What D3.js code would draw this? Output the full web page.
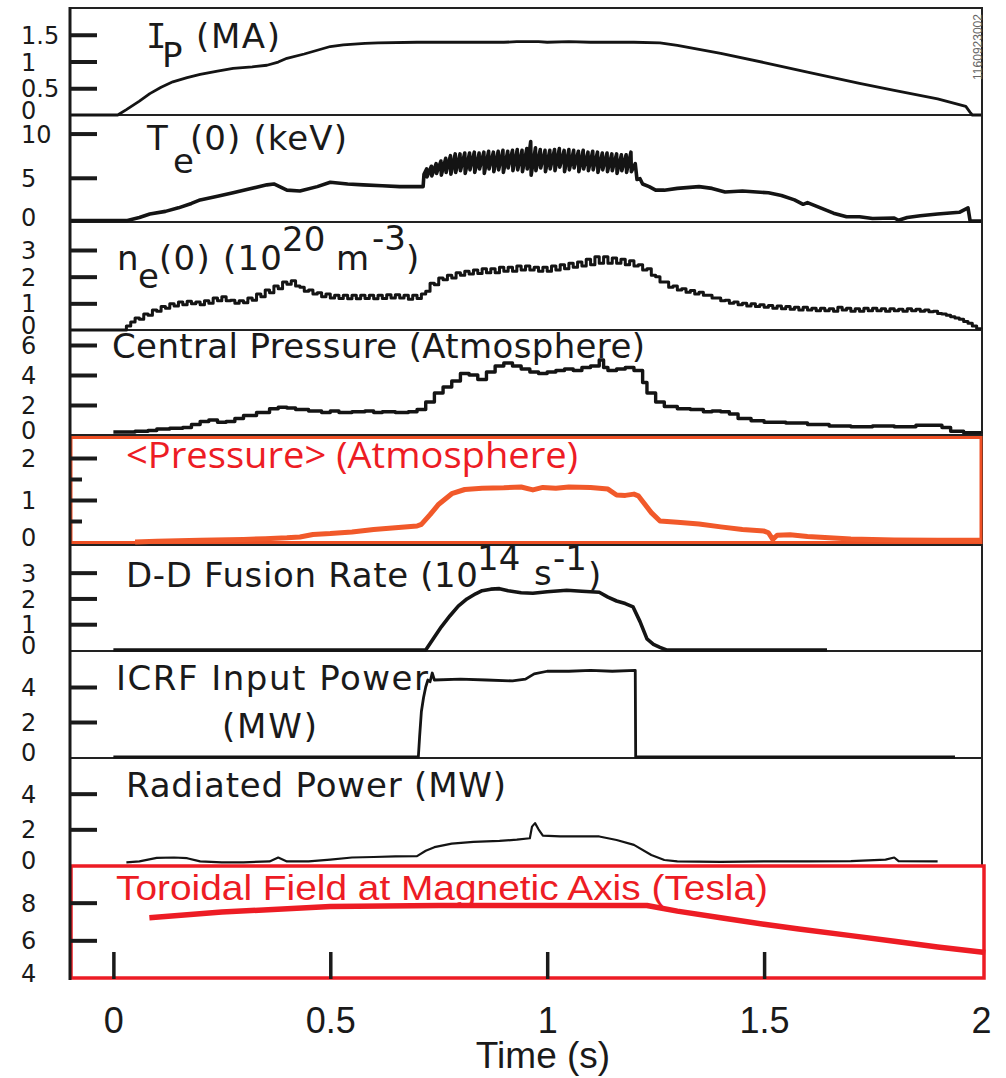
<!DOCTYPE html>
<html>
<head>
<meta charset="utf-8">
<script src="https://cdn.jsdelivr.net/npm/d3@7"></script>
<style>
  body { margin: 0; background: #fff; }
  svg text { font-family: "DejaVu Sans", Verdana, sans-serif; fill: #1a1a1a; }
</style>
</head>
<body>
<svg id="chart" width="1006" height="1078"></svg>
<script>
// ---- data: [time (s), value] ----

var timeTicks = [0, 0.5, 1, 1.5, 2];

// plasma current (MA)
var ipTicks = [0, 0.5, 1, 1.5];
var ipData = [[-0.1,0],[0.01,0],[0.03,0.1],[0.06,0.26],[0.084,0.4],[0.11,0.52],[0.137,0.62],
  [0.17,0.7],[0.2,0.76],[0.24,0.82],[0.276,0.87],[0.32,0.9],[0.354,0.93],[0.38,0.99],[0.4,1.06],
  [0.44,1.14],[0.47,1.21],[0.5,1.28],[0.53,1.31],[0.58,1.34],[0.61,1.35],[0.7,1.36],[0.8,1.36],
  [0.9,1.36],[0.93,1.37],[0.98,1.37],[1.0,1.36],[1.05,1.37],[1.1,1.36],[1.2,1.36],[1.26,1.35],
  [1.3,1.3],[1.4,1.15],[1.5,0.98],[1.6,0.8],[1.72,0.59],[1.8,0.46],[1.9,0.3],[1.965,0.16],
  [1.975,0.05],[1.98,0],[2.0,0]];

// central electron temperature (keV)
var teTicks = [0, 5, 10];
var teRamp = [[-0.1,0.15],[0.03,0.15],[0.06,0.5],[0.084,0.9],[0.12,1.2],[0.15,1.6],[0.18,2.1],
  [0.2,2.5],[0.24,2.9],[0.276,3.3],[0.31,3.7],[0.354,4.2],[0.37,4.3],[0.4,3.6],[0.43,3.5],
  [0.47,4.0],[0.5,4.5],[0.54,4.3],[0.576,4.2],[0.62,4.1],[0.66,4.0],[0.714,4.0],[0.716,5.4]];
// sawtooth teeth: [time, top, bottom after crash]
var teTeeth = [[0.722,6.0,5.1],[0.733,6.3,5.2],[0.744,6.6,5.5],[0.755,6.9,5.3],[0.766,7.2,5.6],
  [0.777,7.5,5.4],[0.788,7.7,5.6],[0.799,7.7,5.8],[0.810,7.8,5.5],[0.821,7.8,5.9],[0.832,7.9,5.6],
  [0.843,7.8,6.0],[0.854,7.9,5.5],[0.865,8.0,6.0],[0.876,7.9,5.7],[0.887,8.0,5.9],[0.898,8.1,5.6],
  [0.909,8.0,6.1],[0.920,8.1,5.8],[0.931,8.2,5.9],[0.942,8.1,5.7],[0.953,8.3,6.0],[0.962,9.1,5.3],
  [0.973,8.4,5.8],[0.984,8.2,6.1],[0.995,8.1,5.7],[1.006,8.1,6.0],[1.017,8.2,5.8],[1.028,8.3,6.2],
  [1.039,8.1,5.7],[1.050,8.2,5.9],[1.061,8.1,6.1],[1.072,8.0,5.7],[1.083,8.1,6.0],[1.094,7.9,5.8],
  [1.105,8.0,5.9],[1.116,7.9,5.6],[1.127,7.8,5.9],[1.138,7.8,5.7],[1.149,7.7,5.8],[1.160,7.7,5.5],
  [1.171,7.6,5.8],[1.182,7.6,5.6],[1.193,7.9,5.7]];
var teDecay = [[1.203,6.6],[1.207,4.8],[1.214,4.9],[1.22,4.3],[1.235,4.0],[1.25,3.6],[1.27,3.6],
  [1.3,3.8],[1.35,4.0],[1.38,3.8],[1.41,3.4],[1.45,3.5],[1.51,3.3],[1.54,3.0],[1.57,2.5],[1.59,2.0],
  [1.6,2.2],[1.63,1.6],[1.66,1.0],[1.69,0.6],[1.72,0.6],[1.75,0.4],[1.8,0.45],[1.81,0.2],[1.83,0.5],
  [1.86,0.7],[1.9,0.9],[1.95,1.1],[1.97,1.6],[1.975,0.1],[2.0,0.1]];

// central electron density (1e20 m^-3)
var neTicks = [0, 1, 2, 3];
var neData = [[-0.1,0],[0.02,0],[0.03,0.15],[0.04,0.3],[0.05,0.45],[0.06,0.4],[0.07,0.6],[0.08,0.55],
  [0.09,0.75],[0.10,0.7],[0.11,0.88],[0.12,0.82],[0.13,0.98],[0.14,0.9],[0.15,1.05],[0.16,0.95],
  [0.17,1.08],[0.18,0.98],[0.19,1.05],[0.20,0.95],[0.21,1.1],[0.22,1.0],[0.23,1.2],[0.24,1.1],
  [0.25,1.25],[0.26,1.1],[0.27,1.12],[0.28,1.0],[0.29,1.1],[0.30,1.02],[0.31,1.2],[0.32,1.12],
  [0.33,1.35],[0.34,1.25],[0.35,1.5],[0.36,1.4],[0.37,1.65],[0.38,1.55],[0.39,1.8],[0.40,1.72],
  [0.41,1.85],[0.42,1.65],[0.43,1.6],[0.44,1.45],[0.45,1.5],[0.46,1.35],[0.47,1.4],[0.48,1.25],
  [0.49,1.35],[0.50,1.2],[0.51,1.3],[0.52,1.18],[0.53,1.3],[0.54,1.17],[0.55,1.3],[0.56,1.17],
  [0.57,1.3],[0.58,1.18],[0.59,1.3],[0.60,1.17],[0.61,1.3],[0.62,1.18],[0.63,1.32],[0.64,1.2],
  [0.65,1.32],[0.66,1.2],[0.67,1.3],[0.68,1.15],[0.69,1.3],[0.70,1.18],[0.71,1.35],[0.72,1.45],
  [0.73,1.75],[0.74,1.7],[0.75,1.95],[0.76,1.88],[0.77,2.05],[0.78,1.95],[0.79,2.15],[0.80,2.05],
  [0.81,2.2],[0.82,2.1],[0.83,2.25],[0.84,2.12],[0.85,2.3],[0.86,2.15],[0.87,2.3],[0.88,2.15],
  [0.89,2.35],[0.90,2.2],[0.91,2.35],[0.92,2.2],[0.93,2.4],[0.94,2.25],[0.95,2.4],[0.96,2.25],
  [0.97,2.35],[0.98,2.2],[0.99,2.35],[1.00,2.2],[1.01,2.4],[1.02,2.25],[1.03,2.45],[1.04,2.3],
  [1.05,2.5],[1.06,2.35],[1.07,2.55],[1.08,2.4],[1.09,2.65],[1.10,2.45],[1.11,2.75],[1.12,2.5],
  [1.13,2.75],[1.14,2.5],[1.15,2.7],[1.16,2.5],[1.17,2.65],[1.18,2.45],[1.19,2.6],[1.20,2.4],
  [1.21,2.45],[1.22,2.25],[1.23,2.3],[1.24,2.05],[1.25,2.0],[1.26,1.8],[1.27,1.8],[1.28,1.6],
  [1.29,1.65],[1.30,1.5],[1.31,1.55],[1.32,1.42],[1.33,1.48],[1.34,1.35],[1.35,1.42],[1.36,1.3],
  [1.37,1.3],[1.38,1.2],[1.39,1.2],[1.40,1.1],[1.41,1.12],[1.42,1.0],[1.43,1.05],[1.44,0.95],
  [1.45,1.0],[1.46,0.9],[1.47,0.98],[1.48,0.88],[1.49,0.95],[1.50,0.85],[1.51,0.92],[1.52,0.82],
  [1.53,0.9],[1.54,0.8],[1.55,0.88],[1.56,0.78],[1.57,0.85],[1.58,0.75],[1.59,0.85],[1.60,0.75],
  [1.61,0.82],[1.62,0.72],[1.63,0.82],[1.64,0.72],[1.65,0.8],[1.66,0.7],[1.67,0.85],[1.68,0.75],
  [1.69,0.82],[1.70,0.7],[1.71,0.8],[1.72,0.7],[1.73,0.82],[1.74,0.72],[1.75,0.82],[1.76,0.72],
  [1.77,0.8],[1.78,0.7],[1.79,0.8],[1.80,0.72],[1.81,0.78],[1.82,0.7],[1.83,0.8],[1.84,0.72],
  [1.85,0.78],[1.86,0.7],[1.87,0.75],[1.88,0.68],[1.89,0.7],[1.90,0.62],[1.91,0.6],[1.92,0.55],
  [1.93,0.5],[1.94,0.45],[1.95,0.4],[1.96,0.32],[1.97,0.25],[1.98,0.15],[1.99,0.05],[2.0,0.03]];

// central pressure (atm)
var pcTicks = [0, 2, 4, 6];
var pcData = [[0.0,0.2],[0.05,0.25],[0.08,0.3],[0.1,0.4],[0.13,0.45],[0.16,0.5],[0.18,0.7],
  [0.2,0.9],[0.22,1.0],[0.24,0.85],[0.26,0.9],[0.28,1.1],[0.3,1.3],[0.33,1.5],[0.36,1.75],
  [0.38,1.85],[0.4,1.8],[0.42,1.7],[0.45,1.6],[0.48,1.5],[0.5,1.6],[0.52,1.5],[0.55,1.55],
  [0.58,1.6],[0.6,1.5],[0.62,1.55],[0.65,1.5],[0.68,1.55],[0.70,1.7],[0.72,2.2],[0.74,2.8],
  [0.76,3.2],[0.78,3.6],[0.80,4.1],[0.82,4.0],[0.84,3.7],[0.86,4.2],[0.88,4.6],[0.90,4.8],
  [0.92,4.6],[0.94,4.4],[0.96,4.2],[0.98,4.1],[1.00,4.2],[1.02,4.3],[1.04,4.4],[1.06,4.3],
  [1.08,4.5],[1.10,4.6],[1.12,5.0],[1.13,4.5],[1.14,4.3],[1.16,4.4],[1.18,4.5],[1.20,4.3],
  [1.22,3.5],[1.23,2.8],[1.25,2.2],[1.27,1.9],[1.30,1.75],[1.33,1.7],[1.36,1.55],[1.38,1.6],
  [1.40,1.55],[1.42,1.4],[1.44,1.1],[1.47,0.95],[1.50,0.85],[1.55,0.8],[1.6,0.7],[1.65,0.6],
  [1.7,0.55],[1.75,0.6],[1.8,0.55],[1.85,0.65],[1.88,0.65],[1.91,0.5],[1.93,0.25],[1.96,0.15],
  [2.0,0.12]];

// volume averaged pressure (atm)
var pavTicks = [0, 1, 2];
var pavMinorTicks = [0.5, 1.5];
var pavData = [[0.05,0.0],[0.1,0.02],[0.2,0.04],[0.3,0.06],[0.35,0.08],[0.4,0.1],[0.43,0.12],
  [0.46,0.18],[0.5,0.2],[0.55,0.24],[0.6,0.3],[0.65,0.34],[0.7,0.38],[0.71,0.42],[0.73,0.65],
  [0.75,0.9],[0.78,1.15],[0.81,1.25],[0.85,1.28],[0.9,1.29],[0.94,1.31],[0.967,1.24],[0.99,1.3],
  [1.02,1.28],[1.05,1.31],[1.1,1.3],[1.14,1.26],[1.16,1.12],[1.18,1.11],[1.2,1.14],[1.21,1.1],
  [1.24,0.7],[1.26,0.5],[1.3,0.47],[1.35,0.43],[1.4,0.36],[1.45,0.3],[1.5,0.26],[1.51,0.22],
  [1.52,0.06],[1.53,0.16],[1.56,0.17],[1.6,0.13],[1.65,0.1],[1.7,0.07],[1.8,0.05],[1.9,0.04],
  [2.0,0.04]];

// D-D fusion rate (1e14 /s)
var ddTicks = [0, 1, 2, 3];
var ddData = [[0.0,0],[0.72,0],[0.737,0.43],[0.756,0.9],[0.776,1.33],[0.795,1.7],[0.815,1.98],
  [0.835,2.18],[0.85,2.3],[0.87,2.36],[0.89,2.38],[0.91,2.3],[0.94,2.22],[0.967,2.2],[1.0,2.26],
  [1.045,2.32],[1.08,2.28],[1.12,2.24],[1.14,2.05],[1.16,1.9],[1.18,1.8],[1.198,1.67],[1.214,1.1],
  [1.23,0.43],[1.245,0.22],[1.26,0.1],[1.275,0],[1.645,0]];

// ICRF input power (MW)
var icrfTicks = [0, 2, 4];
var icrfData = [[0.0,0],[0.703,0],[0.706,1.2],[0.71,2.6],[0.715,3.4],[0.72,4.0],[0.725,4.4],
  [0.73,4.3],[0.735,4.8],[0.74,4.4],[0.8,4.45],[0.86,4.4],[0.92,4.35],[0.95,4.45],[0.97,4.75],
  [1.0,4.9],[1.05,4.9],[1.1,4.95],[1.15,4.9],[1.203,4.95],[1.204,0],[1.94,0]];

// radiated power (MW)
var pradTicks = [0, 2, 4];
var pradData = [[0.03,0.15],[0.06,0.2],[0.1,0.4],[0.14,0.42],[0.17,0.38],[0.2,0.2],[0.25,0.15],
  [0.3,0.15],[0.36,0.2],[0.38,0.42],[0.4,0.2],[0.45,0.2],[0.5,0.3],[0.55,0.42],[0.6,0.45],
  [0.65,0.48],[0.7,0.5],[0.72,0.8],[0.74,1.0],[0.78,1.2],[0.83,1.3],[0.89,1.35],[0.93,1.42],
  [0.96,1.5],[0.965,2.15],[0.972,2.35],[0.98,2.0],[0.99,1.65],[1.03,1.6],[1.12,1.6],[1.16,1.4],
  [1.2,1.13],[1.24,0.56],[1.27,0.28],[1.3,0.2],[1.4,0.18],[1.5,0.2],[1.6,0.2],[1.7,0.22],
  [1.78,0.3],[1.8,0.42],[1.81,0.22],[1.9,0.2]];

// toroidal field on axis (T)
var btTicks = [4, 6, 8];
var btData = [[0.083,7.2],[0.25,7.5],[0.5,7.8],[0.75,7.85],[1.0,7.85],[1.23,7.85],[1.3,7.55],
  [1.4,7.2],[1.5,6.85],[1.58,6.6],[1.7,6.25],[1.8,5.95],[1.9,5.65],[2.01,5.35]];

// build the sawtooth trace from the teeth list
var teData = teRamp
  .concat(teTeeth.flatMap(function(d) { return [[d[0], d[1]], [d[0] + 0.001, d[2]]]; }))
  .concat(teDecay);

// ---- layout ----
var svg = d3.select("#chart");
var xLeft = 70, xRight = 982;
var x = d3.scaleLinear().domain([-0.1, 2.0]).range([70, 981]);

var panels = [
  {data: ipData, ticks: ipTicks, domain: [0, 2], range: [115, 8], width: 2.8},
  {data: teData, ticks: teTicks, domain: [0, 12.1], range: [222, 115], width: 3.6},
  {data: neData, ticks: neTicks, domain: [0, 4.05], range: [330, 222], width: 3, curve: d3.curveStepAfter},
  {data: pcData, ticks: pcTicks, domain: [0, 7], range: [435, 330], width: 3.4, curve: d3.curveStepAfter},
  {data: pavData, ticks: pavTicks, minor: pavMinorTicks, domain: [0, 2.5], range: [542, 437], width: 5, color: "#f1592a"},
  {data: ddData, ticks: ddTicks, domain: [0, 4.15], range: [650, 543], width: 3.6},
  {data: icrfData, ticks: icrfTicks, domain: [0, 6], range: [757, 652], width: 2.8},
  {data: pradData, ticks: pradTicks, domain: [0, 6], range: [865, 758], width: 2.2},
  {data: btData, ticks: btTicks, domain: [4, 10], range: [978, 865], width: 5.5, color: "#ed1c24"}
];

// panel frames
var dividers = [8, 115, 222, 330, 435, 545, 651, 758];
svg.selectAll("line.div")
  .data(dividers)
  .enter().append("line")
  .attr("class", "div")
  .attr("x1", xLeft).attr("x2", xRight)
  .attr("y1", function(d) { return d; }).attr("y2", function(d) { return d; })
  .attr("stroke", "#222").attr("stroke-width", 2);

svg.append("line")
  .attr("x1", xRight).attr("x2", xRight).attr("y1", 7).attr("y2", 866)
  .attr("stroke", "#222").attr("stroke-width", 2);

svg.append("rect")
  .attr("x", 71).attr("y", 437.5).attr("width", 910).attr("height", 105)
  .attr("fill", "none").attr("stroke", "#ee4f24").attr("stroke-width", 3);

// traces
panels.forEach(function(p) {
  p.y = d3.scaleLinear().domain(p.domain).range(p.range);
  var line = d3.line()
    .x(function(d) { return x(d[0]); })
    .y(function(d) { return p.y(d[1]); })
    .curve(p.curve || d3.curveLinear);
  svg.append("path")
    .datum(p.data)
    .attr("d", line)
    .attr("fill", "none")
    .attr("stroke", p.color || "#141414")
    .attr("stroke-width", p.width)
    .attr("stroke-linejoin", "round");
});

svg.append("rect")
  .attr("x", 71).attr("y", 866).attr("width", 913).attr("height", 112)
  .attr("fill", "none").attr("stroke", "#ed1c24").attr("stroke-width", 3.5);

// left axis line
svg.append("line")
  .attr("x1", xLeft).attr("x2", xLeft).attr("y1", 7).attr("y2", 980)
  .attr("stroke", "#1a1a1a").attr("stroke-width", 3);

// y axes: ticks pointing inward, labels flush left
panels.forEach(function(p) {
  var g = svg.append("g")
    .attr("transform", "translate(" + xLeft + ",0)")
    .call(d3.axisLeft(p.y).tickValues(p.ticks).tickSize(-27).tickFormat(d3.format("")));
  g.select(".domain").remove();
  g.selectAll(".tick line")
    .attr("stroke", "#1a1a1a").attr("stroke-width", 4)
    .filter(function(d) { return d === p.domain[0]; }).remove();
  g.selectAll(".tick text")
    .attr("x", 21 - xLeft)
    .attr("dy", function(d) { return d === p.domain[0] ? "0.16em" : "0.36em"; })
    .attr("text-anchor", "start")
    .style("font-family", '"DejaVu Sans", Verdana, sans-serif')
    .style("font-size", "24px")
    .attr("fill", "#1a1a1a");
  if (p.minor) {
    var m = svg.append("g")
      .attr("transform", "translate(" + xLeft + ",0)")
      .call(d3.axisLeft(p.y).tickValues(p.minor).tickSize(-12).tickFormat(""));
    m.select(".domain").remove();
    m.selectAll(".tick line").attr("stroke", "#1a1a1a").attr("stroke-width", 4);
  }
});

// time axis
var xt = svg.append("g")
  .attr("transform", "translate(0,979)")
  .call(d3.axisBottom(x).tickValues(timeTicks.slice(0, 4)).tickSize(-27).tickFormat(""));
xt.select(".domain").remove();
xt.selectAll(".tick line").attr("stroke", "#1a1a1a").attr("stroke-width", 3.5);

var xl = svg.append("g")
  .attr("transform", "translate(0,979)")
  .call(d3.axisBottom(x).tickValues(timeTicks).tickSize(0).tickPadding(28).tickFormat(d3.format("")));
xl.select(".domain").remove();
xl.selectAll(".tick text")
  .style("font-family", '"Liberation Sans", Arial, sans-serif')
  .style("font-size", "36px")
  .attr("fill", "#1a1a1a");

svg.append("text")
  .attr("x", 543).attr("y", 1068)
  .attr("text-anchor", "middle")
  .style("font-family", '"Liberation Sans", Arial, sans-serif')
  .style("font-size", "37px")
  .text("Time (s)");

// panel titles: pieces [text, x, baseline, advance width, font]
function title(pieces, size, opts) {
  opts = opts || {};
  var t = svg.append("text")
    .style("font-size", size + "px")
    .style("font-family", opts.font || '"DejaVu Sans", Verdana, sans-serif');
  if (opts.fill) t.style("fill", opts.fill);
  pieces.forEach(function(s) {
    var sp = t.append("tspan").attr("x", s[1]).attr("y", s[2]).text(s[0]);
    if (s[3]) sp.attr("textLength", s[3]);
    if (s[4]) sp.style("font-family", s[4]);
  });
  if (opts.length) t.attr("textLength", opts.length).attr("lengthAdjust", "spacingAndGlyphs");
  return t;
}

title([["I", 146, 48, 0, '"DejaVu Sans Mono", monospace'], ["P", 162, 67], ["(MA)", 196, 48, 84]], 34);
title([["T", 147, 150], ["e", 173, 173], ["(0) (keV)", 190, 150, 157]], 34);
title([["n", 117, 270], ["e", 138, 288], ["(0) (10", 159, 270, 123], ["20", 282, 251],
       ["m", 336, 270], ["-3", 372, 250], [")", 406, 270]], 34);
title([["Central Pressure (Atmosphere)", 112, 358, 533]], 34);
title([["<Pressure> (Atmosphere)", 126, 468]], 37,
      {font: '"Open Sans", "Noto Sans", sans-serif', fill: "#ed1c24", length: 452});
title([["D-D Fusion Rate (10", 126, 587, 352], ["14", 477, 570], ["s", 534, 585],
       ["-1", 553, 570], [")", 588, 587]], 34);
title([["ICRF Input Power", 116, 690, 312], ["(MW)", 222, 738, 95]], 34);
title([["Radiated Power (MW)", 126, 797, 380]], 34);
title([["Toroidal Field at Magnetic Axis (Tesla)", 116, 900]], 35,
      {font: '"Liberation Sans Narrow", "Liberation Sans", Arial, sans-serif', fill: "#ed1c24", length: 652});

// shot number, written up the right edge
svg.append("text")
  .attr("transform", "translate(978,47) rotate(-90)")
  .attr("text-anchor", "middle")
  .attr("dy", "0.35em")
  .style("font-family", '"Liberation Sans", Arial, sans-serif')
  .style("font-size", "12px")
  .style("fill", "#666")
  .text("1160923002");
</script>
</body>
</html>
